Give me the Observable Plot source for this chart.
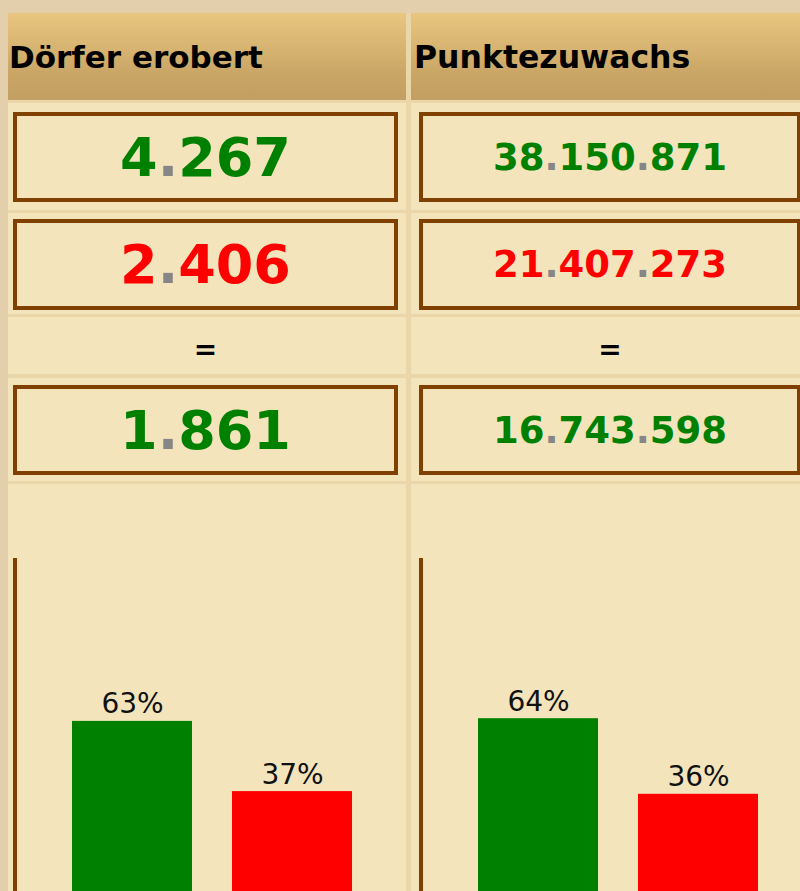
<!DOCTYPE html>
<html><head><meta charset="utf-8">
<script src="https://cdn.jsdelivr.net/npm/d3@7"></script>
<script src="https://cdn.jsdelivr.net/npm/@observablehq/plot@0.6"></script>
<style>
html,body{margin:0;padding:0;width:800px;height:891px;overflow:hidden;}
body{background:#e3cfab;font-family:Verdana,"DejaVu Sans",sans-serif;position:relative;}
#table{position:absolute;left:8px;top:13px;width:820px;height:900px;background:#ead6a8;}
.cell{position:absolute;background:#f4e4bc;}
.hdr{position:absolute;background:linear-gradient(#e9c67f,#c9a666 70%,#c29f62);display:flex;align-items:center;font-weight:bold;font-size:31px;color:#000;}
.box{position:absolute;box-sizing:border-box;border:4px solid #804000;background:#f4e4bc;display:flex;align-items:center;justify-content:center;font-weight:bold;}
.eq{position:absolute;display:flex;align-items:center;justify-content:center;font-size:28px;font-weight:bold;color:#000;}
.grey{color:#868686;}
.vline{position:absolute;width:4px;background:#804000;}
.chart{position:absolute;width:389px;height:429px;}
.chart svg{max-width:none !important;}
</style></head>
<body>
<div id="table"></div>
<div id="root"></div>
<script>
// ---- data ----
const columns = ["Dörfer erobert", "Punktezuwachs"];
const gained = [4267, 38150871];
const lost = [2406, 21407273];
const net = [1861, 16743598];
const gainedPct = [63, 64];
const lostPct = [37, 36];
const barKeys = ["erobert", "verloren"];
const barColors = ["#008000", "#ff0000"];

// ---- layout ----
const colX = [8, 411];
const colW = [398, 420];
const boxX = [13, 419];
const boxW = [385, 382];
const numSize = [54, 37];
const hdrSize = [31, 31.5];
const root = document.getElementById("root");

function el(cls, style, html) {
  const d = document.createElement("div");
  d.className = cls;
  Object.assign(d.style, style);
  if (html !== undefined) d.innerHTML = html;
  root.appendChild(d);
  return d;
}
function fmt(v, color) {
  const s = d3.format(",")(v).split(",");
  return s.map(p => `<span style="color:${color}">${p}</span>`).join('<span class="grey">.</span>');
}
const rows = [[103, 107], [213, 101], [317, 57], [378, 103], [484, 420]];

columns.forEach((name, i) => {
  el("hdr", {left: colX[i] + "px", top: "13px", width: colW[i] + "px", height: "87px", paddingLeft: (i === 0 ? 1 : 3) + "px", boxSizing: "border-box", fontSize: hdrSize[i] + "px"}, name);
  rows.forEach(([t, h]) => el("cell", {left: colX[i] + "px", top: t + "px", width: colW[i] + "px", height: h + "px"}));
  el("box", {left: boxX[i] + "px", top: "112px", width: boxW[i] + "px", height: "90px", fontSize: numSize[i] + "px"}, fmt(gained[i], barColors[0]));
  el("box", {left: boxX[i] + "px", top: "219px", width: boxW[i] + "px", height: "91px", fontSize: numSize[i] + "px"}, fmt(lost[i], barColors[1]));
  el("eq", {left: boxX[i] + "px", top: "317px", width: boxW[i] + "px", height: "64px"}, "=");
  el("box", {left: boxX[i] + "px", top: "385px", width: boxW[i] + "px", height: "90px", fontSize: numSize[i] + "px"}, fmt(net[i], barColors[0]));
  el("vline", {left: boxX[i] + "px", top: "558px", height: "340px"});

  const data = barKeys.map((k, j) => ({key: k, pct: j === 0 ? gainedPct[i] : lostPct[i]}));
  const chart = Plot.plot({
    width: 389, height: 429,
    marginTop: 2, marginBottom: 22, marginLeft: 55, marginRight: 54,
    x: {domain: barKeys, paddingInner: 0.25, paddingOuter: 0, axis: null},
    y: {domain: [0, 150], axis: null},
    color: {domain: barKeys, range: barColors},
    style: {background: "transparent", fontFamily: "Verdana, 'DejaVu Sans', sans-serif", overflow: "visible", maxWidth: "none"},
    marks: [
      Plot.barY(data, {x: "key", y: "pct", fill: "key"}),
      Plot.text(data, {x: "key", y: "pct", text: d => d.pct + "%", lineAnchor: "bottom", dy: -8, fontSize: 28, fill: "#111"})
    ]
  });
  const wrap = el("chart", {left: (boxX[i] + 4) + "px", top: "484px"});
  wrap.appendChild(chart);
});
</script>
</body></html>
